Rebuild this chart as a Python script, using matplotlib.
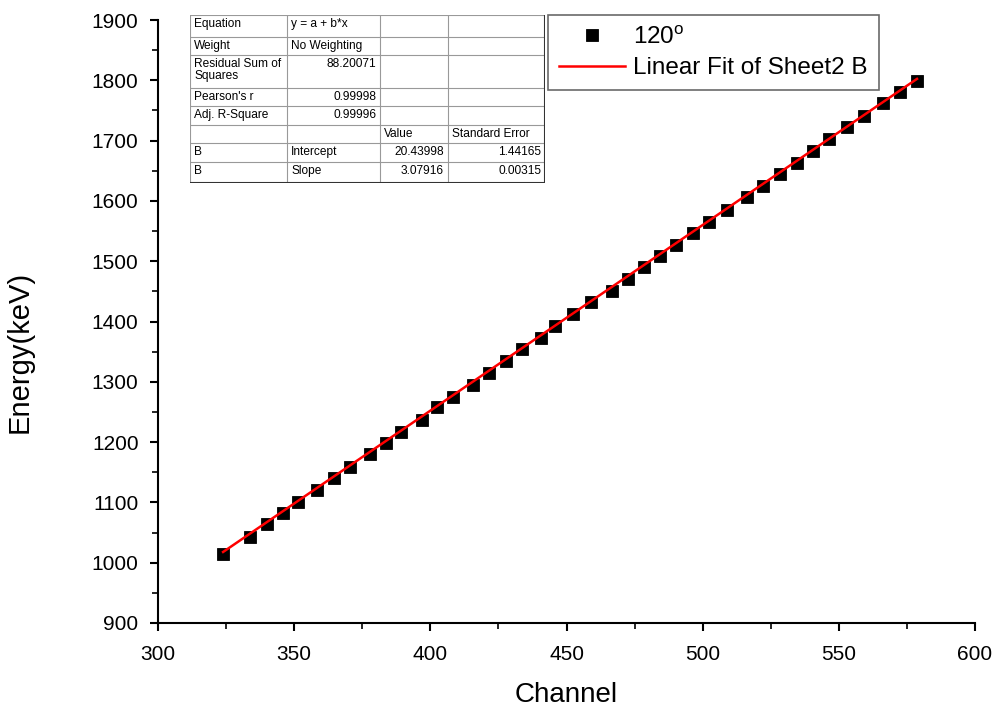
import numpy as np
import matplotlib
matplotlib.use('Agg')
from matplotlib import pyplot as plt

plt.rcParams['font.family'] = ['Liberation Sans', 'DejaVu Sans']
plt.rcParams['mathtext.fontset'] = 'custom'
plt.rcParams['mathtext.rm'] = 'Liberation Sans'

# measured peaks: channel vs energy
channel = [323.9, 333.8, 340.0, 345.9, 351.4, 358.4, 364.6, 370.5, 377.8, 383.7,
           389.2, 396.9, 402.4, 408.3, 415.7, 421.5, 427.8, 433.7, 440.6, 445.8,
           452.4, 459.0, 466.7, 472.6, 478.5, 484.3, 490.2, 496.5, 502.3, 508.9,
           516.3, 522.2, 528.4, 534.6, 540.5, 546.4, 553.0, 559.2, 566.2, 572.5,
           578.7]
energy = [1014, 1043, 1064, 1082, 1101, 1121, 1140, 1159, 1180, 1199,
          1217, 1237, 1258, 1275, 1295, 1315, 1334, 1354, 1373, 1393,
          1412, 1432, 1451, 1470, 1490, 1509, 1527, 1547, 1565, 1585,
          1606, 1625, 1645, 1663, 1683, 1703, 1723, 1741, 1762, 1781,
          1799]

# fit results
intercept = 20.43998
slope = 3.07916
intercept_err = 1.44165
slope_err = 0.00315
rss = 88.20071
pearson_r = 0.99998
adj_r2 = 0.99996

fig = plt.figure(figsize=(9.97, 7.13), dpi=100)
ax = fig.add_axes([158/997, 1-623/713, 817/997, 603/713])

ax.plot(channel, energy, 's', color='black', markersize=8.8, mew=0.6,
        label=r'120$^\mathrm{o}$')
xfit = np.array([channel[0], channel[-1]])
ax.plot(xfit, intercept + slope*xfit, '-', color='#ff0000', lw=1.8,
        label='Linear Fit of Sheet2 B')

ax.set_xlim(300, 600)
ax.set_ylim(900, 1900)
ax.set_xticks(np.arange(300, 601, 50))
ax.set_xticks(np.arange(325, 600, 50), minor=True)
ax.set_yticks(np.arange(900, 1901, 100))
ax.set_yticks(np.arange(950, 1900, 100), minor=True)
for s in ['top', 'right']:
    ax.spines[s].set_visible(False)
for s in ['left', 'bottom']:
    ax.spines[s].set_linewidth(1.5)
ax.tick_params(which='major', direction='out', length=6, width=1.5, labelsize=15)
ax.tick_params(which='minor', direction='out', length=4, width=1.2)
ax.tick_params(axis='x', which='major', pad=10)
ax.tick_params(axis='y', which='major', pad=8)
ax.set_xlabel('Channel', fontsize=20)
ax.set_ylabel('Energy(keV)', fontsize=21)
ax.xaxis.set_label_coords(0.5, -0.098)
ax.yaxis.set_label_coords(-0.152, 0.45)

leg = ax.legend(loc='upper left', bbox_to_anchor=(548/997, 1-15/713),
                bbox_transform=fig.transFigure, fontsize=17.5, frameon=True,
                fancybox=False, borderpad=0.45, handlelength=2.7,
                labelspacing=0.35, borderaxespad=0, handletextpad=0.35)
leg.get_frame().set_edgecolor('#444444')
leg.get_frame().set_linewidth(1.2)

# fit statistics table
tab = fig.add_axes([190/997, 1-183/713, 355/997, 168/713])
tab.set_xlim(0, 355)
tab.set_ylim(168, 0)
tab.axis('off')
cols = [0, 97, 190, 258, 355]
rows = [0, 22, 40, 73, 91, 110, 128, 147, 168]
for c in cols:
    tab.plot([c, c], [0, 168], color='#999999', lw=0.8)
for r in rows:
    tab.plot([0, 355], [r, r], color='#999999', lw=0.8)
tab.plot([355, 355], [0, 168], color='#333333', lw=1.5)
tab.plot([0, 355], [168, 168], color='#333333', lw=1.5)

fs = 8.6
cells = [
    (0, 0, 'Equation', 'l'), (1, 0, 'y = a + b*x', 'l'),
    (0, 1, 'Weight', 'l'), (1, 1, 'No Weighting', 'l'),
    (0, 2, 'Residual Sum of\nSquares', 'l'), (1, 2, f'{rss:.5f}', 'r'),
    (0, 3, "Pearson's r", 'l'), (1, 3, f'{pearson_r:.5f}', 'r'),
    (0, 4, 'Adj. R-Square', 'l'), (1, 4, f'{adj_r2:.5f}', 'r'),
    (2, 5, 'Value', 'l'), (3, 5, 'Standard Error', 'l'),
    (0, 6, 'B', 'l'), (1, 6, 'Intercept', 'l'),
    (2, 6, f'{intercept:.5f}', 'r'), (3, 6, f'{intercept_err:.5f}', 'r'),
    (0, 7, 'B', 'l'), (1, 7, 'Slope', 'l'),
    (2, 7, f'{slope:.5f}', 'r'), (3, 7, f'{slope_err:.5f}', 'r'),
]
for ci, ri, txt, al in cells:
    y = rows[ri] + 3
    if al == 'l':
        tab.text(cols[ci] + 4, y, txt, ha='left', va='top', fontsize=fs,
                 linespacing=0.95)
    else:
        tab.text(cols[ci+1] - 4, y, txt, ha='right', va='top', fontsize=fs)

fig.savefig('out.png', dpi=100)
